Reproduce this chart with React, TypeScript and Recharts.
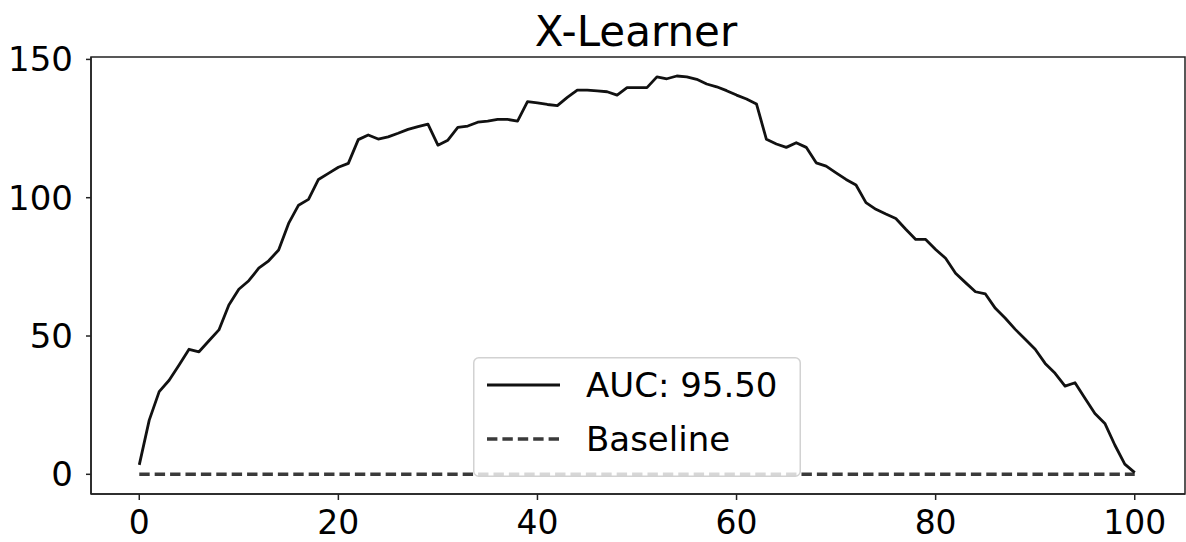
import React from 'react';
import { LineChart, Line, XAxis, YAxis, ReferenceArea, Legend } from 'recharts';

const FONT = '"DejaVu Sans", sans-serif';

const title = 'X-Learner';
const seriesNames = ['AUC: 95.50', 'Baseline'];
const xTicks = [0, 20, 40, 60, 80, 100];
const yTicks = [0, 50, 100, 150];

// percentage of population targeted (0..100)
const steps = Array.from({ length: 101 }, (_, i) => i);

const upliftValues = [
  3.4, 19.6, 29.9, 34.0, 39.5, 45.2, 44.3, 48.3, 52.2, 61.2,
  66.9, 70.0, 74.5, 77.2, 81.1, 90.7, 97.3, 99.4, 106.6, 108.8,
  111.0, 112.4, 121.0, 122.7, 121.2, 122.0, 123.3, 124.7, 125.7, 126.6,
  119.0, 120.8, 125.4, 125.9, 127.3, 127.7, 128.3, 128.3, 127.7, 134.7,
  134.3, 133.7, 133.3, 136.3, 138.9, 138.9, 138.6, 138.3, 137.1, 139.8,
  139.8, 139.8, 143.7, 143.0, 144.0, 143.7, 142.8, 141.1, 140.1, 138.7,
  137.1, 135.7, 133.9, 121.1, 119.4, 118.2, 119.9, 118.2, 112.6, 111.4,
  109.0, 106.6, 104.6, 98.2, 95.8, 94.1, 92.5, 88.6, 84.9, 84.9,
  81.3, 78.1, 72.7, 69.3, 66.0, 65.2, 60.0, 56.4, 52.4, 48.8,
  45.2, 40.1, 36.5, 31.9, 33.1, 27.5, 22.0, 18.4, 10.6, 3.7,
  0.6,
];

const baselineValues = steps.map(() => 0);

const data = steps.map((s, i) => ({ x: s, model: upliftValues[i], base: baselineValues[i] }));

const X_DOMAIN: [number, number] = [-4.85, 105.05];
const Y_DOMAIN: [number, number] = [-7.12, 150.87];

const MAIN_COLOR = '#111111';
const BASE_COLOR = '#3a3a3a';

const renderLegend = () => (
  <svg width={328} height={120} style={{ display: 'block' }}>
    <rect x={0.75} y={0.75} width={326.5} height={118.5} rx={5} ry={5}
      fill="rgba(255,255,255,0.8)" stroke="#d2d2d2" strokeWidth={1.5} />
    <line x1={14} x2={87} y1={28} y2={28} stroke={MAIN_COLOR} strokeWidth={3} />
    <text x={113} y={28} dominantBaseline="central" fontFamily={FONT} fontSize={34} fill="#000">{seriesNames[0]}</text>
    <line x1={14} x2={87} y1={82} y2={82} stroke={BASE_COLOR} strokeWidth={3.5} strokeDasharray="10.4 5" />
    <text x={113} y={82} dominantBaseline="central" fontFamily={FONT} fontSize={34} fill="#000">{seriesNames[1]}</text>
  </svg>
);

export default function App() {
  const yTickStyle = { fontSize: 34, fill: '#000', fontFamily: FONT };
  const xTickStyle = { fontSize: 33, fill: '#000', fontFamily: FONT };
  return (
    <div style={{ position: 'absolute', left: 0, top: 0, width: 1186, height: 542, background: '#fff' }}>
      <LineChart width={1186} height={542} data={data} margin={{ top: 57, right: 1, bottom: 0, left: 0 }}>
        <ReferenceArea x1={X_DOMAIN[0]} x2={X_DOMAIN[1]} y1={Y_DOMAIN[0]} y2={Y_DOMAIN[1]}
          fill="none" stroke="#222" strokeWidth={1.5} ifOverflow="visible" />
        <XAxis dataKey="x" type="number" domain={X_DOMAIN} ticks={xTicks} interval={0}
          allowDataOverflow height={48} tickSize={6} tickMargin={11}
          tick={xTickStyle} axisLine={{ stroke: '#222', strokeWidth: 1.5 }}
          tickLine={{ stroke: '#222', strokeWidth: 1.5 }} />
        <YAxis type="number" domain={Y_DOMAIN} ticks={yTicks} interval={0}
          allowDataOverflow width={91} tickSize={5} tickMargin={13}
          tick={yTickStyle} axisLine={{ stroke: '#222', strokeWidth: 1.5 }}
          tickLine={{ stroke: '#222', strokeWidth: 1.5 }} />
        <Line dataKey="base" name={seriesNames[1]} stroke={BASE_COLOR} strokeWidth={3.5}
          strokeDasharray="10.4 5" dot={false} activeDot={false} isAnimationActive={false} />
        <Line dataKey="model" name={seriesNames[0]} stroke={MAIN_COLOR} strokeWidth={2.8}
          dot={false} activeDot={false} isAnimationActive={false} strokeLinejoin="round" />
        <Legend layout="vertical" align="center" verticalAlign="middle" content={renderLegend}
          wrapperStyle={{ position: 'absolute', left: 473, top: 357, width: 328, height: 120, right: 'auto', bottom: 'auto', margin: 0 }} />
      </LineChart>
      <svg width={1186} height={60} style={{ position: 'absolute', left: 0, top: 0, pointerEvents: 'none' }}>
        <text x={636} y={46} textAnchor="middle" fontFamily={FONT} fontSize={42} fill="#000">{title}</text>
      </svg>
    </div>
  );
}
